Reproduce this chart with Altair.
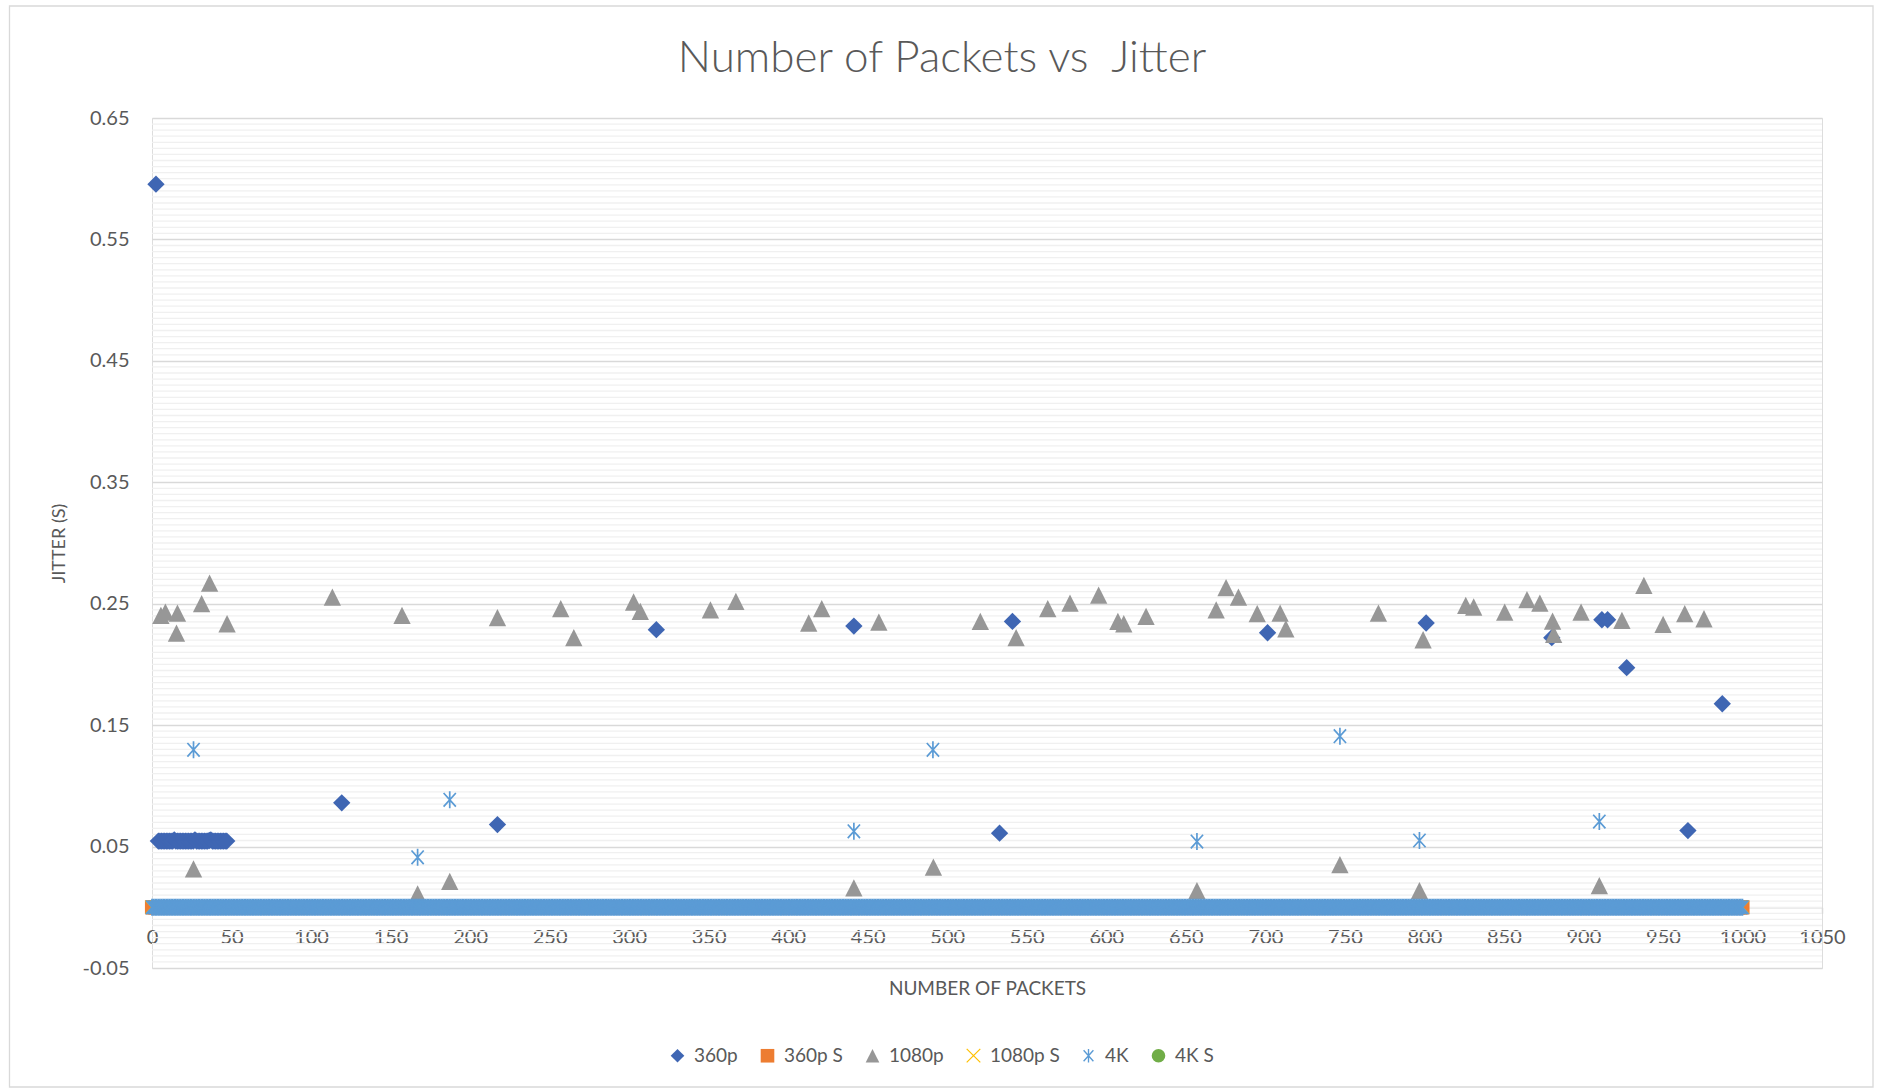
import math
import altair as alt
import pandas as pd

# ---------------- data ----------------
SERIES = ["360p", "360p S", "1080p", "1080p S", "4K", "4K S"]
COLORS = ["#3F66B3", "#ED7D31", "#979797", "#FFC000", "#5B9BD5", "#70AD47"]

P360_X = [2.5,
          4, 5, 6, 7, 8, 9, 10, 11, 12, 13, 14, 15, 16, 17, 18, 19, 20, 21, 22, 23, 24, 25,
          26, 27, 28, 29, 30, 31, 32, 33, 34, 35, 36, 37, 38, 39, 40, 41, 42, 43, 44, 45, 46, 47,
          119.3, 217.2, 317.1, 441.3, 532.9, 541.0, 701.4, 801.1, 880.1, 911.6, 915.2,
          927.2, 965.7, 987.3]
P360_Y = [0.5955,
          0.0545, 0.0545, 0.0545, 0.0545, 0.0545, 0.0545, 0.0545, 0.0545, 0.0545, 0.0545, 0.0555,
          0.0545, 0.0545, 0.0545, 0.0545, 0.0545, 0.0545, 0.0545, 0.0545, 0.0545, 0.0545, 0.0545,
          0.0545, 0.0555, 0.0545, 0.0545, 0.0545, 0.0545, 0.0545, 0.0545, 0.0545, 0.0545, 0.0550,
          0.0555, 0.0545, 0.0545, 0.0545, 0.0545, 0.0545, 0.0545, 0.0545, 0.0545, 0.0545, 0.0545,
          0.0860, 0.0681, 0.2286, 0.2316, 0.0610, 0.2354, 0.2261, 0.2341, 0.2220, 0.2368, 0.2368,
          0.1973, 0.0632, 0.1676]

P1080_X = [5.6, 8.4, 15.4, 16.0, 26.1, 31.2, 36.2, 47.2, 113.4, 157.2, 167.0, 187.2, 217.2,
           257.0, 265.2, 302.8, 307.0, 351.1, 367.1, 412.9, 421.1, 441.3, 457.0, 491.3, 520.8,
           543.3, 563.2, 577.2, 595.2, 607.3, 611.0, 625.0, 657.0, 669.1, 675.3, 683.1, 694.9,
           709.3, 712.9, 746.9, 771.1, 796.9, 799.2, 826.0, 831.0, 850.5, 864.5, 872.6, 880.6,
           881.3, 898.5, 910.0, 924.2, 938.0, 950.1, 963.7, 975.8]
P1080_Y = [0.2404, 0.2431, 0.2258, 0.2423, 0.0316, 0.2500, 0.2670, 0.2335, 0.2555, 0.2404,
           0.0110, 0.0214, 0.2385, 0.2459, 0.2220, 0.2514, 0.2437, 0.2450, 0.2519, 0.2341,
           0.2459, 0.0160, 0.2349, 0.0330, 0.2354, 0.2220, 0.2459, 0.2505, 0.2571, 0.2354,
           0.2335, 0.2396, 0.0137, 0.2450, 0.2632, 0.2555, 0.2418, 0.2423, 0.2294, 0.0352,
           0.2423, 0.0137, 0.2203, 0.2486, 0.2473, 0.2431, 0.2533, 0.2505, 0.2357, 0.2247,
           0.2431, 0.0179, 0.2363, 0.2651, 0.2330, 0.2418, 0.2376]

P4K_X = [26.1, 167.0, 187.2, 441.3, 491.0, 657.0, 746.9, 796.9, 910.0]
P4K_Y = [0.1297, 0.0412, 0.0885, 0.0626, 0.1297, 0.0541, 0.1409, 0.0550, 0.0706]

# every packet 0..1000 also has a zero-jitter entry (the solid band on the axis)
BASELINE_PACKETS = list(range(0, 1001))
BASELINE_JITTER = [0.0] * len(BASELINE_PACKETS)

X_TICKS = [0, 50, 100, 150, 200, 250, 300, 350, 400, 450, 500, 550, 600, 650, 700,
           750, 800, 850, 900, 950, 1000, 1050]
Y_TICKS = [-0.05, 0.05, 0.15, 0.25, 0.35, 0.45, 0.55, 0.65]
MINOR_Y = [round(-0.05 + k * 0.005, 4) for k in range(141) if k % 20 != 0]


# ---------------- marker shapes ----------------
def bar_path(segments, w):
    parts = []
    for (x1, y1), (x2, y2) in segments:
        dx, dy = x2 - x1, y2 - y1
        L = math.hypot(dx, dy)
        nx, ny = -dy / L * w, dx / L * w
        pts = [(x1 + nx, y1 + ny), (x2 + nx, y2 + ny), (x2 - nx, y2 - ny), (x1 - nx, y1 - ny)]
        parts.append("M" + "L".join(f"{px:.3f},{py:.3f}" for px, py in pts) + "Z")
    return "".join(parts)


TRIANGLE = "M0,-1L1,1L-1,1Z"
XMARK = bar_path([((-1, -1), (1, 1)), ((-1, 1), (1, -1))], 0.09)
ASTER = bar_path([((0, -1), (0, 1)), ((-0.72, -0.8), (0.72, 0.8)), ((-0.72, 0.8), (0.72, -0.8))], 0.1)
SHAPES = ["diamond", "square", TRIANGLE, XMARK, ASTER, "circle"]
MARKER_AREA = {"360p": 300, "360p S": 200, "1080p": 300, "1080p S": 169, "4K": 289}


def frame(series, xs, ys):
    return pd.DataFrame({"series": [series] * len(xs), "packets": xs, "jitter": ys})


LAYER_DATA = [
    ("360p", frame("360p", P360_X, P360_Y)),
    ("360p S", frame("360p S", BASELINE_PACKETS, BASELINE_JITTER)),
    ("1080p", frame("1080p", P1080_X, P1080_Y)),
    ("1080p S", frame("1080p S", BASELINE_PACKETS, BASELINE_JITTER)),
    ("4K", pd.concat([frame("4K", BASELINE_PACKETS, BASELINE_JITTER),
                      frame("4K", P4K_X, P4K_Y)], ignore_index=True)),
]
minor_df = pd.DataFrame({"v": MINOR_Y})

FONT = "Lato"
TXT = "#595959"
W, H = 1670, 850
LEGEND_SYMBOL = 185

xscale = alt.Scale(domain=[0, 1050], nice=False, zero=False)
yscale = alt.Scale(domain=[-0.05, 0.65], nice=False, zero=False)

x_axis = alt.Axis(
    values=X_TICKS, format="d", grid=False, domain=True, domainColor="#d9d9d9",
    domainWidth=1.5, ticks=True, tickColor="#d9d9d9", tickSize=6, tickWidth=1.5,
    offset=-60.7, labelPadding=14, labelFlush=False, labelOverlap=False,
    labelFont=FONT, labelFontSize=20, labelColor=TXT,
    title="NUMBER OF PACKETS", titleFont=FONT, titleFontSize=19,
    titleFontWeight="normal", titleColor=TXT, titlePadding=32)

y_axis = alt.Axis(
    values=Y_TICKS, labelExpr="replace(format(datum.value, '.2f'), '\u2212', '-')",
    grid=True, gridColor="#d9d9d9", gridWidth=1.5, domain=False, ticks=False,
    labelPadding=23, labelFont=FONT, labelFontSize=20, labelColor=TXT,
    title="JITTER (S)", titleFont=FONT, titleFontSize=18, titleFontWeight="normal",
    titleColor=TXT, titlePadding=14)

legend = alt.Legend(
    title=None, orient="none", direction="horizontal", legendX=516, legendY=928,
    labelFont=FONT, labelFontSize=19, labelColor=TXT, symbolSize=LEGEND_SYMBOL,
    labelOffset=7, columnPadding=19, symbolOpacity=1, padding=0,
)

color_enc = alt.Color("series:N", scale=alt.Scale(domain=SERIES, range=COLORS), legend=legend)
shape_enc = alt.Shape("series:N", scale=alt.Scale(domain=SERIES, range=SHAPES), legend=legend)

minor = alt.Chart(minor_df).mark_rule(color="#f0f0f0", strokeWidth=1.3).encode(
    y=alt.Y("v:Q", scale=yscale, axis=y_axis, title="JITTER (S)")
)

border = alt.Chart(pd.DataFrame({"a": [0]})).mark_rect(
    fillOpacity=0, stroke="#d9d9d9", strokeWidth=1.3
).encode(x=alt.value(-142.5), x2=alt.value(1721), y=alt.value(-112), y2=alt.value(969))

layers = [minor, border]
for name, data in LAYER_DATA:
    layers.append(
        alt.Chart(data).mark_point(filled=True, opacity=1, size=MARKER_AREA[name]).encode(
            x=alt.X("packets:Q", scale=xscale, axis=x_axis, title="NUMBER OF PACKETS"),
            y=alt.Y("jitter:Q", scale=yscale, axis=y_axis, title="JITTER (S)"),
            color=color_enc,
            shape=shape_enc,
        )
    )

chart = alt.layer(*layers).properties(
    width=W, height=H,
    padding={"left": 152, "top": 118, "right": 55, "bottom": 123},
    autosize=alt.AutoSizeParams(type="none"),
    title=alt.TitleParams(
        "Number of Packets vs\u00a0 Jitter", font=FONT, fontSize=44, fontWeight=300,
        color=TXT, anchor="middle", dx=-45, offset=-76),
).configure_view(stroke="transparent").configure_legend(
    symbolSize=LEGEND_SYMBOL
).configure(background="white")

chart.save("out.html", embed_options={"renderer": "svg", "actions": False})
